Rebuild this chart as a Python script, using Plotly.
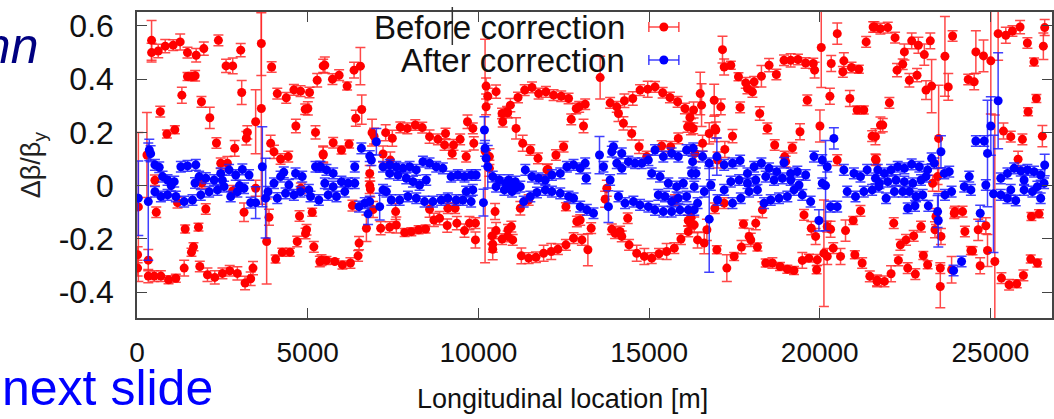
import plotly.graph_objects as go

# ---------------- data ----------------
red_x = [
    427, 427, 622, 827, 1060, 1265, 1479, 1733, 1957, 2385,
    2609, 2804, 3038, 3642, 3642, 3476, 3944, 1479, 1625, 1703,
    1314, 681, 876, 1109, 1888, 2132, 2327, 2862, 3067, 3232,
    3203, 2453, 2648, 291, 40, 4109, 4372, 4596, 4791, 5054,
    4927, 5005, 4654, 5229, 5278, 5454, 5454, 3915, 4012, 4206,
    4430, 3476,
    18, 18, 330, 330, 505, 700, 924, 1138, 1382, 1840,
    2064, 2278, 2502, 2716, 2940, 3165, 3330, 3398, 3798, 4060,
    4255, 4479, 4693, 4937, 4966, 5180, 5405, 1411, 1801, 1596,
    1655, 2015, 1187, 564, 3135, 3866, 4761, 5132, 525, 1900,
    2800, 4800,
    5502, 5726, 5921, 6155, 6359, 6544, 6408, 6583, 6885, 6944,
    7284, 7479, 7713, 7918, 8152, 8356, 8570, 8814, 9038, 9009,
    9233, 9272, 9466, 9681, 9837, 9866, 9642, 5453, 5746, 5989,
    6213, 6817, 6836, 7207, 7421, 10196, 10226, 10226, 10275, 10518,
    10693, 10713, 10859, 10323, 10323,
    5356, 5551, 5794, 6018, 6252, 6476, 6505, 6720, 6311, 7138,
    7402, 7596, 7840, 8035, 8249, 8454, 7577, 8570, 8697, 8863,
    9087, 9106, 9320, 9369, 9593, 9739, 9914, 9914, 10401, 10420,
    10420, 10518, 10693, 10859, 10489, 6914, 6817,
    10937, 10840, 11161, 11356, 11570, 11765, 11979, 12203, 12427, 12642,
    12866, 12953, 13129, 12720, 13080, 11103, 11298, 11522, 11746, 12038,
    12272, 12496, 13567, 13859, 14054, 14103, 14278, 14522, 14736, 14960,
    15175, 15398, 15612, 15836, 16051, 16197, 16129, 16294, 14249, 14492,
    14707, 14931, 15369, 15632, 15856, 12009, 11229, 11473, 12564,
    10869, 11005, 11259, 11473, 11687, 11911, 12135, 12330, 12564, 12788,
    13032, 13208, 13304, 12885, 12983, 10966, 13713, 13762, 13908, 14005,
    14151, 14200, 14414, 14638, 14862, 15077, 15291, 15515, 15739, 15934,
    16148, 16226, 16148, 14375, 15758,
    16304, 16226, 16499, 16538, 16908, 16927, 17103, 17151, 17200, 17395,
    17619, 17833, 17882, 18028, 18077, 18291, 18515, 18729, 18953, 19148,
    19362, 19586, 19810, 19849, 20044, 20336, 20512, 20706, 20677, 20930,
    21145, 21359, 21564, 17667, 18242, 18466, 18680, 19197, 19421, 19635,
    20005, 20297, 20881, 21096, 21291, 21534, 21778, 17444, 17219, 16567,
    16762, 16956, 16343, 17005, 20511, 21632, 18973, 19002,
    16226, 16323, 16421, 16616, 16694, 16986, 17278, 17492, 17706, 17930,
    17979, 18174, 17765, 18125, 18417, 18612, 18836, 19050, 19245, 19489,
    19684, 19927, 19908, 20122, 20219, 20394, 20609, 21028, 21242, 21466,
    21680, 19538, 19752, 19879, 20219, 20317, 20755, 20979, 21193, 16927,
    17200, 18320,
    21602, 21777, 21992, 22206, 22479, 22693, 22888, 23063, 23238, 23667,
    23891, 22430, 22264, 22625, 22849, 23112, 23277, 23764, 22040, 21846,
    24573, 24797, 25011, 25225, 25450, 25644, 25868, 26082, 26277, 26550,
    26589, 24349, 24524, 26345, 26102, 26521, 25381, 25596, 25936, 23482,
    21631, 25810, 21651, 23306, 23452,
    22167, 22966, 22751, 22527, 22362, 22303, 22576, 22800, 22089, 21894,
    21680, 23034, 23160, 23531, 23531, 23862, 23375, 23959, 24183, 24252,
    24427, 24475, 24699, 24641, 24865, 24914, 25128, 25322, 25546, 25771,
    25965, 26180, 26375, 26199, 26423, 23404, 23550, 23940,
]
red_y = [
    0.546, 0.50, 0.506, 0.524, 0.528, 0.54, 0.50, 0.49, 0.515, 0.546,
    0.45, 0.45, 0.509, 0.534, 0.29, 0.24, 0.446, 0.41, 0.41, 0.413,
    0.34, 0.278, 0.194, 0.21, 0.315, 0.255, 0.16, 0.14, 0.35, 0.20,
    0.178, 0.084, 0.084, 0.115, -0.08, 0.346, 0.33, 0.36, 0.355, 0.35,
    0.287, 0.29, 0.224, 0.20, 0.396, 0.45, 0.115, 0.159, 0.127, 0.10,
    0.109, -0.01,
    -0.26, -0.31, -0.28, -0.34, -0.34, -0.34, -0.354, -0.348, -0.31, -0.304,
    -0.335, -0.345, -0.33, -0.32, -0.33, -0.366, -0.35, -0.31, -0.21, -0.276,
    -0.25, -0.25, -0.21, -0.18, -0.166, -0.23, -0.28, -0.163, -0.156, -0.25,
    -0.23, -0.088, -0.064, -0.10, -0.10, -0.119, -0.114, -0.10, 0.02, 0.01,
    -0.02, -0.01,
    0.453, 0.40, 0.415, 0.374, 0.434, 0.449, 0.253, 0.286, 0.199, 0.186,
    0.199, 0.178, 0.219, 0.215, 0.228, 0.218, 0.184, 0.174, 0.196, 0.153,
    0.121, 0.153, 0.174, 0.24, 0.215, 0.159, 0.109, 0.119, 0.161, 0.134,
    0.156, 0.046, -0.0125, 0.119, 0.096, 0.13, 0.374, 0.296, 0.336, 0.353,
    0.271, 0.24, 0.274, 0.109, 0.065,
    -0.285, -0.281, -0.285, -0.298, -0.291, -0.264, -0.216, -0.16, -0.075, -0.16,
    -0.156, -0.148, -0.176, -0.173, -0.166, -0.163, -0.0975, -0.089, -0.129, -0.1225,
    -0.15, -0.085, -0.085, -0.141, -0.169, -0.141, -0.204, -0.141, -0.189, -0.239,
    -0.22, -0.169, -0.201, -0.191, -0.0975, -0.09, 0.0,
    0.3025, 0.2775, 0.331, 0.359, 0.369, 0.346, 0.3525, 0.34, 0.336, 0.3275,
    0.29, 0.296, 0.306, 0.249, 0.224, 0.215, 0.159, 0.134, 0.1025, 0.061,
    0.115, 0.146, 0.406, 0.311, 0.296, 0.271, 0.319, 0.3275, 0.359, 0.3625,
    0.371, 0.349, 0.331, 0.315, 0.29, 0.256, 0.221, 0.215, 0.234, 0.196,
    0.146, 0.109, 0.149, 0.146, 0.1775, 0.059, -0.085, -0.054, -0.079,
    -0.166, -0.204, -0.264, -0.2725, -0.269, -0.254, -0.2475, -0.239, -0.2225, -0.1975,
    -0.204, -0.241, -0.16, -0.135, -0.129, -0.154, -0.051, -0.01, -0.164, -0.179,
    -0.1725, -0.191, -0.2225, -0.254, -0.266, -0.2725, -0.256, -0.2475, -0.235, -0.201,
    -0.1725, -0.144, -0.131, -0.1225, -0.054,
    0.284, 0.221, 0.346, 0.3025, 0.321, 0.215, 0.296, 0.511, 0.446, 0.4525,
    0.409, 0.386, 0.365, 0.3525, 0.39, 0.411, 0.4525, 0.4175, 0.471, 0.471,
    0.474, 0.461, 0.459, 0.434, 0.519, 0.459, 0.571, 0.469, 0.4275, 0.444,
    0.4375, 0.54, 0.596, 0.294, 0.271, 0.215, 0.1525, 0.1425, 0.2025, 0.321,
    0.224, 0.336, 0.3275, 0.284, 0.284, 0.186, 0.2275, 0.186, 0.136, 0.159,
    0.196, 0.209, 0.121, 0.096, 0.096, 0.099, 0.109, 0.09,
    -0.119, -0.1475, -0.204, -0.216, -0.166, -0.241, -0.31, -0.266, -0.231, -0.191,
    -0.204, -0.231, -0.144, -0.141, -0.291, -0.291, -0.304, -0.314, -0.319, -0.281,
    -0.2725, -0.279, -0.316, -0.254, -0.266, -0.235, -0.266, -0.26, -0.291, -0.341,
    -0.36, -0.11, -0.16, -0.191, -0.154, -0.164, -0.169, -0.131, -0.095, -0.085,
    -0.066, -0.091,
    0.596, 0.59, 0.594, 0.556, 0.5025, 0.544, 0.5275, 0.4925, 0.544, 0.486,
    0.5625, 0.456, 0.434, 0.396, 0.415, 0.359, 0.374, 0.371, 0.311, 0.2275,
    0.5025, 0.4875, 0.469, 0.571, 0.565, 0.581, 0.596, 0.536, 0.465, 0.524,
    0.594, 0.399, 0.39, 0.3275, 0.2775, 0.186, 0.205, 0.184, 0.174, 0.1775,
    0.184, 0.099, 0.096, 0.009, 0.034,
    -0.141, -0.154, -0.189, -0.204, -0.2225, -0.281, -0.31, -0.3325, -0.331, -0.36,
    -0.356, -0.2625, -0.2975, -0.31, -0.379, -0.316, -0.166, -0.0975, -0.0975, -0.1725,
    -0.244, -0.245, -0.301, -0.166, -0.151, -0.244, -0.285, -0.3475, -0.3725, -0.369,
    -0.3375, -0.276, -0.291, -0.116, -0.106, -0.116, -0.191, -0.104,
]
red_err = [
    0.075, 0.035, 0.025, 0.025, 0.02, 0.03, 0.02, 0.025, 0.025, 0.02,
    0.025, 0.03, 0.025, 0.12, 0.36, 0.12, 0.02, 0.015, 0.015, 0.02,
    0.03, 0.02, 0.015, 0.015, 0.02, 0.04, 0.02, 0.03, 0.045, 0.025,
    0.025, 0.02, 0.025, 0.16, 0.28, 0.02, 0.02, 0.02, 0.02, 0.02,
    0.02, 0.025, 0.025, 0.025, 0.025, 0.025, 0.03, 0.03, 0.025, 0.02,
    0.02, 0.03,
    0.03, 0.03, 0.04, 0.025, 0.02, 0.02, 0.015, 0.015, 0.03, 0.02,
    0.025, 0.025, 0.02, 0.02, 0.025, 0.025, 0.025, 0.025, 0.16, 0.015,
    0.015, 0.015, 0.02, 0.02, 0.02, 0.02, 0.02, 0.015, 0.015, 0.015,
    0.015, 0.02, 0.02, 0.02, 0.035, 0.03, 0.02, 0.015, 0.02, 0.02,
    0.02, 0.02,
    0.03, 0.02, 0.02, 0.015, 0.03, 0.07, 0.03, 0.055, 0.05, 0.03,
    0.03, 0.03, 0.02, 0.02, 0.02, 0.02, 0.025, 0.02, 0.02, 0.02,
    0.02, 0.02, 0.02, 0.025, 0.02, 0.025, 0.02, 0.03, 0.02, 0.015,
    0.015, 0.03, 0.03, 0.03, 0.03, 0.42, 0.03, 0.03, 0.03, 0.025,
    0.02, 0.02, 0.02, 0.03, 0.03,
    0.02, 0.015, 0.01, 0.015, 0.02, 0.02, 0.025, 0.05, 0.02, 0.025,
    0.02, 0.03, 0.015, 0.015, 0.015, 0.015, 0.03, 0.03, 0.025, 0.025,
    0.025, 0.02, 0.02, 0.025, 0.025, 0.025, 0.03, 0.02, 0.03, 0.04,
    0.03, 0.03, 0.02, 0.02, 0.03, 0.03, 0.03,
    0.025, 0.02, 0.02, 0.02, 0.02, 0.02, 0.02, 0.02, 0.02, 0.02,
    0.02, 0.02, 0.02, 0.02, 0.025, 0.04, 0.03, 0.02, 0.02, 0.02,
    0.02, 0.02, 0.08, 0.02, 0.02, 0.03, 0.025, 0.025, 0.02, 0.03,
    0.02, 0.02, 0.02, 0.02, 0.02, 0.02, 0.02, 0.02, 0.025, 0.025,
    0.025, 0.02, 0.02, 0.02, 0.02, 0.02, 0.025, 0.02, 0.015,
    0.02, 0.02, 0.03, 0.02, 0.02, 0.03, 0.03, 0.02, 0.02, 0.02,
    0.02, 0.06, 0.02, 0.02, 0.02, 0.02, 0.03, 0.03, 0.02, 0.02,
    0.02, 0.02, 0.02, 0.03, 0.03, 0.02, 0.02, 0.03, 0.02, 0.02,
    0.02, 0.02, 0.02, 0.02, 0.02,
    0.03, 0.03, 0.08, 0.08, 0.06, 0.05, 0.03, 0.05, 0.03, 0.015,
    0.015, 0.02, 0.02, 0.02, 0.02, 0.04, 0.025, 0.02, 0.02, 0.025,
    0.02, 0.02, 0.02, 0.03, 0.15, 0.03, 0.04, 0.03, 0.02, 0.02,
    0.015, 0.02, 0.02, 0.02, 0.025, 0.02, 0.02, 0.02, 0.03, 0.02,
    0.06, 0.03, 0.03, 0.015, 0.015, 0.02, 0.03, 0.025, 0.03, 0.03,
    0.04, 0.03, 0.03, 0.03, 0.02, 0.02, 0.02, 0.02,
    0.03, 0.03, 0.03, 0.04, 0.04, 0.015, 0.05, 0.015, 0.025, 0.03,
    0.025, 0.015, 0.015, 0.025, 0.015, 0.02, 0.015, 0.015, 0.015, 0.03,
    0.015, 0.02, 0.015, 0.2, 0.03, 0.02, 0.03, 0.015, 0.02, 0.02,
    0.02, 0.02, 0.025, 0.03, 0.02, 0.03, 0.04, 0.015, 0.02, 0.02,
    0.02, 0.03,
    0.02, 0.02, 0.02, 0.02, 0.03, 0.03, 0.03, 0.04, 0.03, 0.15,
    0.02, 0.02, 0.025, 0.025, 0.025, 0.035, 0.1, 0.05, 0.02, 0.025,
    0.08, 0.06, 0.2, 0.1, 0.03, 0.02, 0.025, 0.02, 0.015, 0.05,
    0.03, 0.02, 0.03, 0.015, 0.015, 0.04, 0.03, 0.02, 0.02, 0.2,
    0.03, 0.03, 0.02, 0.03, 0.03,
    0.02, 0.02, 0.02, 0.02, 0.02, 0.02, 0.02, 0.02, 0.03, 0.02,
    0.02, 0.015, 0.015, 0.02, 0.08, 0.05, 0.03, 0.02, 0.02, 0.02,
    0.015, 0.015, 0.03, 0.04, 0.03, 0.06, 0.55, 0.02, 0.02, 0.015,
    0.02, 0.015, 0.015, 0.015, 0.015, 0.03, 0.03, 0.02,
]

blue_x = [
    38, 360, 400, 330, 525, 651, 749, 895, 1090, 1285,
    1479, 1723, 1820, 2015, 2259, 2453, 2697, 2892, 3086, 3281,
    525, 700, 895, 1138, 1382, 1625, 1869, 2113, 2356, 2551,
    2746, 2940, 3135, 3330, 3476, 3671, 3768, 3837, 4012, 4206,
    4450, 4645, 4840, 5034, 5229, 5375, 4109, 4352, 4596, 4791,
    5083, 5327, 1000, 1700, 2500, 3000, 4300,
    5356, 5551, 5746, 5502, 5746, 5989, 6184, 6379, 5599, 5843,
    6086, 6379, 6573, 6817, 6866, 7012, 6505, 6671, 6768, 6817,
    7109, 7207, 7304, 7207, 7402, 7596, 7791, 7986, 8181, 8376,
    8570, 8765, 8960, 7402, 7645, 7889, 8084, 8278, 8473, 7450,
    7694, 7937, 8181, 8424, 8668, 8911, 9106, 9350, 9545, 9788,
    9203, 9398, 9593, 9788, 9934, 9642, 9837, 10177, 10196, 10226,
    10275, 10148, 10420, 10615, 10810, 10518, 10761,
    10888, 11083, 11375, 11570, 11765, 11960, 12154, 12398, 12593, 12788,
    12983, 13129, 13158, 10888, 11083, 11327, 11522, 11716, 11960, 12154,
    12398, 12642, 12788, 12983, 13177, 13372, 10986, 11229, 13548, 13664,
    13810, 13859, 13908, 13956, 14054, 14200, 14395, 14590, 14784, 14979,
    15174, 15418, 15661, 15856, 16099, 16294, 14200, 14103, 14297, 14541,
    14736, 14979, 15174, 15418, 15661, 15905, 16148, 15077, 15320, 15564,
    15807, 16002, 16245, 15271, 15466, 15661, 15856, 16099,
    16275, 16372, 16567, 16762, 16986, 17200, 17444, 17667, 17882, 18077,
    18291, 18515, 18739, 18953, 19148, 19343, 19587, 19830, 20073, 20219,
    20414, 20706, 21000, 21193, 21388, 21632, 16323, 16421, 16616, 16762,
    16810, 17005, 17200, 17444, 17687, 17930, 18174, 18369, 18564, 18807,
    19050, 19245, 19489, 19733, 19976, 20073, 20317, 20511, 20804, 21047,
    21291, 21534, 21729, 16323, 17395, 17638, 17882, 18125, 18417, 18661,
    18905, 19148, 19392, 20170,
    21700, 21894, 22089, 22284, 22479, 22693, 22917, 23160, 23277, 23355,
    23550, 23647, 23793, 21748, 21992, 22235, 22479, 22723, 22966, 23112,
    21943, 22187, 22430, 22625, 22820, 23015, 22576, 22790, 23180, 23452,
    23472, 23667, 23862, 23920, 24154, 24232, 24427, 24378, 24700, 24573,
    24817, 24914, 25011, 25225, 25089, 24865, 25303, 25498, 25693, 25888,
    26082, 26277, 26472, 26589, 25303, 25498, 25741, 25985, 26229, 26472,
    26570, 25595, 25985, 26375,
]
blue_y = [
    -0.047, 0.134, 0.12, -0.06, 0.078, 0.069, 0.034, 0.021, 0.015, 0.071,
    0.074, 0.078, 0.034, 0.028, 0.021, 0.046, 0.059, 0.04, 0.061, 0.04,
    -0.023, -0.041, -0.035, -0.041, -0.06, -0.054, -0.035, -0.023, -0.016, -0.004,
    -0.041, -0.023, -0.01, -0.064, -0.064, 0.071, -0.047, -0.023, 0.009, 0.034,
    0.003, 0.046, 0.034, -0.016, 0.071, 0.071, -0.047, -0.029, -0.035, -0.023,
    -0.041, -0.054, 0.0, 0.01, 0.02, 0.0, 0.05,
    0.071, 0.059, 0.046, 0.009, -0.004, 0.015, 0.009, 0.009, -0.035, -0.041,
    -0.0225, 0.071, 0.14, 0.111, 0.096, 0.165, -0.079, -0.066, -0.106, -0.06,
    -0.079, -0.016, -0.0225, 0.071, 0.078, 0.071, 0.065, 0.071, 0.059, 0.09,
    0.084, 0.071, 0.065, 0.046, 0.04, 0.0275, 0.015, 0.0025, 0.021, -0.054,
    -0.054, -0.041, -0.0475, -0.06, -0.06, -0.054, -0.0475, -0.054, -0.054, -0.06,
    0.034, 0.04, 0.034, 0.04, 0.04, -0.0225, -0.016, 0.209, 0.14, 0.1025,
    0.071, -0.064, 0.034, 0.021, 0.009, -0.004, -0.016,
    0.021, 0.015, 0.059, 0.034, 0.0275, 0.021, 0.04, 0.046, 0.071, 0.078,
    0.065, 0.084, 0.0275, 0.0025, -0.01, -0.06, -0.041, -0.026, -0.016, -0.0225,
    -0.029, -0.041, -0.0475, -0.079, -0.091, -0.104, -0.0225, -0.004, 0.115, 0.071,
    -0.079, 0.021, 0.1275, 0.146, 0.084, 0.121, 0.09, 0.084, 0.084, 0.096,
    0.134, 0.109, 0.121, 0.109, 0.134, 0.14, 0.065, -0.041, -0.066, -0.06,
    -0.0725, -0.079, -0.091, -0.0975, -0.0975, -0.091, -0.091, 0.046, 0.034, 0.009,
    -0.004, 0.009, 0.046, -0.035, -0.041, -0.06, -0.0475, -0.041,
    0.09, 0.046, 0.109, 0.084, 0.109, 0.078, 0.084, 0.094, 0.046, 0.071,
    0.084, 0.065, 0.0525, 0.086, 0.046, 0.0525, 0.04, 0.109, 0.096, 0.071,
    0.1775, 0.059, 0.046, 0.034, 0.059, 0.0275, -0.004, -0.066, -0.0225, -0.126,
    0.0025, -0.054, -0.016, -0.066, -0.0475, -0.0225, -0.016, -0.066, -0.054, -0.0475,
    -0.041, -0.016, -0.035, -0.06, -0.131, 0.009, -0.079, -0.079, -0.0225, -0.041,
    -0.0225, -0.016, -0.004, -0.091, 0.015, 0.021, 0.009, 0.021, 0.034, 0.021,
    0.0275, 0.021, 0.0025, 0.0,
    0.059, 0.046, 0.059, 0.071, 0.065, 0.08, 0.071, 0.059, 0.1025, 0.084,
    0.1275, 0.046, 0.0525, 0.009, 0.015, 0.021, 0.015, 0.009, 0.021, 0.034,
    -0.0475, -0.0225, -0.0225, -0.0225, -0.041, -0.035, -0.085, -0.076, -0.076, -0.0975,
    -0.131, -0.035, -0.0225, -0.319, -0.285, -0.004, -0.016, 0.034, -0.104, 0.1675,
    0.1675, 0.121, 0.224, 0.319, -0.031, 0.0025, 0.0275, 0.046, 0.065, 0.056,
    0.059, 0.0525, 0.04, 0.0775, -0.035, -0.0475, -0.056, -0.016, -0.0225, -0.0475,
    0.009, -0.016, 0.021, -0.004,
]
blue_err = [
    0.14, 0.04, 0.03, 0.22, 0.02, 0.02, 0.02, 0.02, 0.02, 0.02,
    0.02, 0.02, 0.02, 0.02, 0.02, 0.02, 0.02, 0.02, 0.02, 0.02,
    0.02, 0.02, 0.02, 0.02, 0.02, 0.02, 0.02, 0.02, 0.02, 0.02,
    0.02, 0.02, 0.02, 0.02, 0.06, 0.15, 0.15, 0.02, 0.02, 0.02,
    0.02, 0.02, 0.02, 0.02, 0.02, 0.02, 0.02, 0.02, 0.02, 0.02,
    0.02, 0.02, 0.02, 0.02, 0.02, 0.02, 0.02,
    0.02, 0.02, 0.02, 0.02, 0.02, 0.02, 0.02, 0.02, 0.02, 0.02,
    0.02, 0.02, 0.02, 0.02, 0.02, 0.05, 0.02, 0.02, 0.04, 0.02,
    0.05, 0.02, 0.02, 0.02, 0.02, 0.02, 0.02, 0.02, 0.02, 0.02,
    0.02, 0.02, 0.02, 0.02, 0.02, 0.02, 0.02, 0.02, 0.02, 0.02,
    0.02, 0.02, 0.02, 0.02, 0.02, 0.02, 0.02, 0.02, 0.02, 0.02,
    0.02, 0.02, 0.02, 0.02, 0.02, 0.02, 0.02, 0.05, 0.03, 0.03,
    0.08, 0.05, 0.02, 0.02, 0.02, 0.02, 0.02,
    0.02, 0.02, 0.02, 0.02, 0.02, 0.02, 0.02, 0.02, 0.02, 0.02,
    0.02, 0.02, 0.02, 0.02, 0.02, 0.02, 0.02, 0.02, 0.02, 0.02,
    0.02, 0.02, 0.02, 0.02, 0.02, 0.02, 0.02, 0.02, 0.07, 0.02,
    0.06, 0.02, 0.02, 0.02, 0.02, 0.02, 0.02, 0.02, 0.02, 0.02,
    0.02, 0.02, 0.02, 0.02, 0.02, 0.02, 0.02, 0.02, 0.02, 0.02,
    0.02, 0.02, 0.02, 0.02, 0.02, 0.02, 0.02, 0.02, 0.02, 0.02,
    0.02, 0.02, 0.02, 0.02, 0.02, 0.02, 0.02, 0.02,
    0.02, 0.02, 0.02, 0.02, 0.07, 0.02, 0.02, 0.02, 0.02, 0.02,
    0.02, 0.02, 0.02, 0.02, 0.02, 0.02, 0.02, 0.02, 0.02, 0.02,
    0.04, 0.02, 0.02, 0.02, 0.02, 0.02, 0.02, 0.02, 0.02, 0.2,
    0.02, 0.02, 0.02, 0.02, 0.02, 0.02, 0.02, 0.02, 0.02, 0.02,
    0.02, 0.02, 0.02, 0.02, 0.04, 0.02, 0.02, 0.02, 0.02, 0.02,
    0.02, 0.02, 0.02, 0.02, 0.02, 0.02, 0.02, 0.02, 0.02, 0.02,
    0.02, 0.02, 0.02, 0.17,
    0.02, 0.02, 0.02, 0.02, 0.02, 0.02, 0.02, 0.02, 0.02, 0.02,
    0.06, 0.02, 0.02, 0.02, 0.02, 0.02, 0.02, 0.02, 0.02, 0.02,
    0.02, 0.02, 0.02, 0.02, 0.02, 0.02, 0.02, 0.02, 0.02, 0.06,
    0.1, 0.02, 0.02, 0.02, 0.02, 0.02, 0.02, 0.02, 0.03, 0.02,
    0.02, 0.2, 0.11, 0.18, 0.22, 0.02, 0.02, 0.02, 0.02, 0.02,
    0.02, 0.02, 0.02, 0.04, 0.02, 0.02, 0.02, 0.02, 0.02, 0.02,
    0.02, 0.02, 0.02, 0.02,
]

x_ticks = [0, 5000, 10000, 15000, 20000, 25000]
x_ticktext = ["0", "5000", "10000", "15000", "20000", "25000"]
y_ticks = [-0.4, -0.2, 0, 0.2, 0.4, 0.6]
y_ticktext = ["-0.4", "-0.2", "0", "0.2", "0.4", "0.6"]
series_names = ["Before correction", "After correction"]

# ---------------- figure ----------------
W, H = 1054, 419
ML, MR, MT, MB = 137, 0, 12, 101
FONT = "Liberation Sans, Arial, sans-serif"
RED, BLUE = "#ff0000", "#0000ff"
RED_BAR, BLUE_BAR = "rgba(255,40,40,0.85)", "rgba(30,30,255,0.85)"

fig = go.Figure()
fig.add_trace(go.Scatter(
    x=red_x, y=red_y, mode="markers", name=series_names[0],
    marker=dict(color=RED, size=9, line=dict(width=0)),
    error_y=dict(type="data", array=red_err, color=RED_BAR, thickness=1.5, width=5),
    showlegend=False, cliponaxis=True))
fig.add_trace(go.Scatter(
    x=blue_x, y=blue_y, mode="markers", name=series_names[1],
    marker=dict(color=BLUE, size=9, line=dict(width=0)),
    error_y=dict(type="data", array=blue_err, color=BLUE_BAR, thickness=1.5, width=5),
    showlegend=False, cliponaxis=True))

pw = W - ML - MR
ph = H - MT - MB


def px2paper_x(px):
    return (px - ML) / pw


def px2paper_y(py):
    return (H - MB - py) / ph


axis_common = dict(
    showline=True, linecolor="#444444", linewidth=1.5, mirror="ticks",
    ticks="inside", ticklen=10, tickwidth=1, tickcolor="#444444",
    showgrid=False, zeroline=False,
)
fig.update_xaxes(range=[0, 26803], tickvals=x_ticks, ticktext=x_ticktext,
                 ticklabelstandoff=9,
                 tickfont=dict(family=FONT, size=28, color="#111111"), **axis_common)
fig.update_yaxes(range=[-0.4975, 0.6525], tickvals=y_ticks, ticktext=y_ticktext,
                 ticklabelstandoff=15,
                 tickfont=dict(family=FONT, size=32, color="#111111"), **axis_common)

annotations = []
shapes = []

# legend (gnuplot style: text right-aligned, key sample to the right)
leg_text_right = px2paper_x(628)
leg_sample_x = px2paper_x(665)
for name, col, bar, py in [(series_names[0], RED, RED_BAR, 27),
                           (series_names[1], BLUE, BLUE_BAR, 60)]:
    yp = px2paper_y(py)
    annotations.append(dict(xref="paper", yref="paper", x=leg_text_right, y=yp,
                            xanchor="right", yanchor="middle", showarrow=False,
                            text=name, font=dict(family=FONT, size=33, color="#111111")))
    common = dict(xref="paper", yref="paper", xsizemode="pixel", ysizemode="pixel",
                  xanchor=leg_sample_x, yanchor=yp, layer="above")
    shapes.append(dict(type="line", x0=-15, x1=15, y0=0, y1=0,
                       line=dict(color=bar, width=1.5), **common))
    shapes.append(dict(type="line", x0=-15, x1=-15, y0=-5, y1=5,
                       line=dict(color=bar, width=1.5), **common))
    shapes.append(dict(type="line", x0=15, x1=15, y0=-5, y1=5,
                       line=dict(color=bar, width=1.5), **common))
    shapes.append(dict(type="circle", x0=-4.5, x1=4.5, y0=-4.5, y1=4.5,
                       fillcolor=col, line=dict(width=0), **common))

# stray cursor line seen on the slide
shapes.append(dict(type="line", xref="paper", yref="paper",
                   x0=px2paper_x(453), x1=px2paper_x(453),
                   y0=px2paper_y(7), y1=px2paper_y(45),
                   line=dict(color="#333333", width=1.5)))

# axis titles
annotations.append(dict(xref="paper", yref="paper", x=px2paper_x(563), y=px2paper_y(399),
                        xanchor="center", yanchor="middle", showarrow=False,
                        text="Longitudinal location [m]",
                        font=dict(family=FONT, size=27, color="#111111")))
annotations.append(dict(xref="paper", yref="paper", x=px2paper_x(33), y=px2paper_y(165),
                        xanchor="center", yanchor="middle", showarrow=False, textangle=-90,
                        text="Δβ/β<sub>y</sub>",
                        font=dict(family=FONT, size=27, color="#222222")))

# slide text fragments around the chart
annotations.append(dict(xref="paper", yref="paper", x=px2paper_x(40), y=px2paper_y(46),
                        xanchor="right", yanchor="middle", showarrow=False,
                        text="<i>mn</i>",
                        font=dict(family=FONT, size=50, color="#000080")))
annotations.append(dict(xref="paper", yref="paper", x=px2paper_x(0), y=px2paper_y(388),
                        xanchor="left", yanchor="middle", showarrow=False,
                        text="next slide",
                        font=dict(family=FONT, size=50, color="#0000ff")))

fig.update_layout(
    width=W, height=H,
    margin=dict(l=ML, r=MR, t=MT, b=MB, pad=0),
    paper_bgcolor="white", plot_bgcolor="white",
    annotations=annotations, shapes=shapes,
    showlegend=False,
)

fig.write_html("out.html", config={"displayModeBar": False},
               post_script="document.body.style.margin='0';document.body.style.overflow='hidden';")
